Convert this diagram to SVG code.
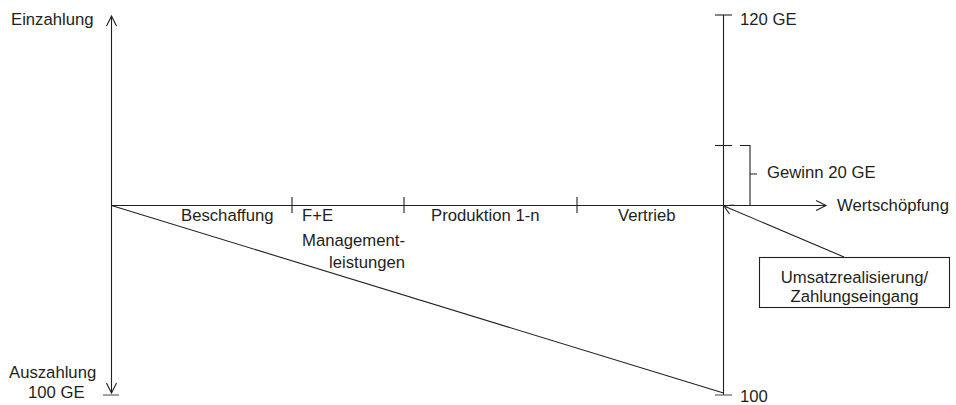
<svg xmlns="http://www.w3.org/2000/svg" width="956" height="405" viewBox="0 0 956 405">
<style>
text{font-family:"Liberation Sans",Arial,sans-serif;font-size:16.7px;fill:#231f20}
.ln{stroke:#231f20;stroke-width:1.1;fill:none}
.tk{stroke:#6d6e70;stroke-width:1.3;fill:none}
</style>
<rect width="956" height="405" fill="#fff"/>
<g id="connectors">
<line class="ln" x1="111.5" y1="16" x2="111.5" y2="393"/>
<path class="ln" d="M106.5,26 L111.5,16 L116.5,26"/>
<path class="ln" d="M106.5,383 L111.5,393 L116.5,383"/>
<line class="tk" x1="103" y1="395" x2="119" y2="395"/>
<line class="ln" x1="111.5" y1="205.5" x2="826" y2="205.5"/>
<path class="ln" d="M816,200.5 L826,205.5 L816,210.5"/>
<line class="ln" x1="292" y1="197" x2="292" y2="213"/>
<line class="ln" x1="404" y1="197" x2="404" y2="213"/>
<line class="ln" x1="577" y1="197" x2="577" y2="213"/>
<line class="ln" x1="723.5" y1="15" x2="723.5" y2="395"/>
<line class="ln" x1="715" y1="15" x2="732" y2="15"/>
<line class="ln" x1="715" y1="145.5" x2="732" y2="145.5"/>
<line class="tk" x1="715" y1="395" x2="732" y2="395"/>
<path class="ln" d="M740,145.5 H750 V205.5 H733 M750,174 H757"/>
<line class="ln" x1="111.5" y1="205.5" x2="723.5" y2="393"/>
<line class="ln" x1="844" y1="257" x2="724" y2="206"/>
<path class="ln" d="M729.5,214 L724,206 L733.5,205"/>
</g>
<g id="axis-labels">
<text x="11" y="25">Einzahlung</text>
<text x="9" y="378">Auszahlung</text>
<text x="28" y="398">100 GE</text>
<text x="740" y="25">120 GE</text>
<text x="740" y="402">100</text>
<text x="767" y="178">Gewinn 20 GE</text>
<text x="837" y="211">Wertschöpfung</text>
</g>
<g id="phases">
<text x="181" y="221">Beschaffung</text>
<text x="302" y="221">F+E</text>
<text x="302" y="246">Management-</text>
<text x="329" y="268">leistungen</text>
<text x="431" y="221">Produktion 1-n</text>
<text x="618" y="221">Vertrieb</text>
</g>
<g id="box-umsatz">
<rect x="759.5" y="257.5" width="190" height="50" fill="#fff" stroke="#231f20" stroke-width="1.1"/>
<text x="854.5" y="283" text-anchor="middle">Umsatzrealisierung/</text>
<text x="854.5" y="302" text-anchor="middle">Zahlungseingang</text>
</g>
</svg>
